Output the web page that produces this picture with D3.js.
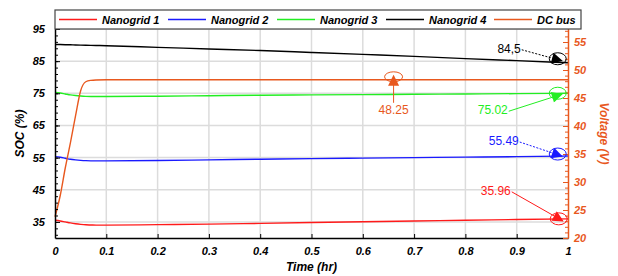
<!DOCTYPE html>
<html><head><meta charset="utf-8">
<script src="https://cdn.jsdelivr.net/npm/d3@7"></script>
<style>
body{margin:0;background:#fff;}
text{font-family:"Liberation Sans",Arial,sans-serif;}
</style></head>
<body><svg id="c" width="618" height="276"></svg>
<script>
const time = [0, 0.01, 0.02, 0.03, 0.04, 0.05, 0.06, 0.07, 0.08, 0.1, 0.2, 0.3, 0.4, 0.5, 0.6, 0.7, 0.8, 0.9, 1];
const nanogrid1 = [35.5, 35.3, 35.0, 34.7, 34.45, 34.25, 34.1, 34.05, 34.0, 34.0, 34.15, 34.3, 34.55, 34.8, 35.05, 35.3, 35.5, 35.75, 35.96];
const nanogrid2 = [55.3, 55.1, 54.8, 54.5, 54.3, 54.15, 54.05, 54.0, 54.0, 54.0, 54.1, 54.3, 54.5, 54.7, 54.85, 55.0, 55.15, 55.3, 55.49];
const nanogrid3 = [75.3, 75.1, 74.8, 74.5, 74.3, 74.15, 74.05, 74.0, 74.0, 74.0, 74.1, 74.25, 74.4, 74.5, 74.6, 74.7, 74.8, 74.9, 75.02];
const nanogrid4 = [90.2, 90.16, 90.12, 90.08, 90.04, 90.0, 89.96, 89.92, 89.88, 89.8, 89.3, 88.8, 88.3, 87.7, 87.1, 86.5, 85.8, 85.15, 84.5];
const dcBus = [23.8, 27.5, 32.5, 37.0, 41.8, 46.3, 47.9, 48.15, 48.22, 48.25, 48.25, 48.25, 48.25, 48.25, 48.25, 48.25, 48.25, 48.25, 48.25];
const seriesNames = ["Nanogrid 1", "Nanogrid 2", "Nanogrid 3", "Nanogrid 4", "DC bus"];
const xTicks = [0, 0.1, 0.2, 0.3, 0.4, 0.5, 0.6, 0.7, 0.8, 0.9, 1];
const socTicks = [35, 45, 55, 65, 75, 85, 95];
const voltTicks = [20, 25, 30, 35, 40, 45, 50, 55];
const annLabels = ["84,5", "75.02", "55.49", "35.96", "48.25"];
const annTimes = [0.98, 0.98, 0.98, 0.98, 0.66];
const annValues = [84.5, 75.02, 55.49, 35.96, 48.25];
const annSeries = [3, 2, 1, 0, 4];

const colors = ["#ff1a1a", "#1a1aff", "#22ee22", "#000000", "#e8581e"];
const orange = "#e8581e";
const svg = d3.select("#c");
const L = 55, R = 568, T = 29, B = 238;
const x = d3.scaleLinear().domain([0, 1]).range([L, R]);
const yL = d3.scaleLinear().domain([30, 95]).range([B, T]);
const yR = d3.scaleLinear().domain([20, 57.5]).range([B, T - 1]);

// grid
const g = svg.append("g");
g.selectAll(".vg").data(xTicks.slice(1, -1)).enter().append("line")
  .attr("x1", d => x(d)).attr("x2", d => x(d)).attr("y1", T).attr("y2", B)
  .attr("stroke", "#dcdcdc").attr("stroke-width", 1.5);
g.selectAll(".hg").data(socTicks).enter().append("line")
  .attr("x1", L).attr("x2", R).attr("y1", d => yL(d)).attr("y2", d => yL(d))
  .attr("stroke", "#dcdcdc").attr("stroke-width", 1.5);

// lines
const data = [nanogrid1, nanogrid2, nanogrid3, nanogrid4];
data.forEach((s, i) => {
  const line = d3.line().x((d, j) => x(time[j])).y(d => yL(d)).curve(d3.curveMonotoneX);
  svg.append("path").datum(s).attr("d", line).attr("fill", "none")
    .attr("stroke", colors[i]).attr("stroke-width", 1.4);
});
const dcLine = d3.line().x((d, j) => x(time[j])).y(d => yR(d)).curve(d3.curveMonotoneX);
svg.append("path").datum(dcBus).attr("d", dcLine).attr("fill", "none")
  .attr("stroke", orange).attr("stroke-width", 1.4);

// axes
const font = 'bold italic 11px "Liberation Sans", Arial, sans-serif';
const ax = svg.append("g").attr("transform", `translate(0,${B})`)
  .call(d3.axisBottom(x).tickValues(xTicks).tickSizeInner(-4).tickSizeOuter(0).tickPadding(9)
    .tickFormat(d => d === 0 ? "0" : d === 1 ? "1" : d3.format(".1f")(d)));
ax.select(".domain").attr("stroke", "#000").attr("stroke-width", 1.5);
ax.selectAll("text").style("font", font).attr("fill", "#000");

const ayMinor = svg.append("g").attr("transform", `translate(${L},0)`)
  .call(d3.axisLeft(yL).tickValues(d3.range(31, 96, 2)).tickSize(-3).tickFormat(""));
ayMinor.select(".domain").remove();
const ay = svg.append("g").attr("transform", `translate(${L},0)`)
  .call(d3.axisLeft(yL).tickValues(socTicks).tickSizeInner(-5).tickSizeOuter(0).tickPadding(10));
ay.select(".domain").attr("stroke", "#000").attr("stroke-width", 1.5);
ay.selectAll("text").style("font", font).attr("fill", "#000");

const arMinor = svg.append("g").attr("transform", `translate(${R},0)`)
  .call(d3.axisRight(yR).tickValues(d3.range(21, 58, 1)).tickSize(-3).tickFormat(""));
arMinor.select(".domain").remove();
arMinor.selectAll("line").attr("stroke", orange);
const ar = svg.append("g").attr("transform", `translate(${R},0)`)
  .call(d3.axisRight(yR).tickValues(voltTicks).tickSizeInner(-5).tickSizeOuter(0).tickPadding(6));
ar.select(".domain").attr("stroke", orange).attr("stroke-width", 1.5);
ar.selectAll("line").attr("stroke", orange);
ar.selectAll("text").style("font", font).attr("fill", orange);

// axis titles
const tfont = 'bold italic 12px "Liberation Sans", Arial, sans-serif';
svg.append("text").attr("x", (L + R) / 2).attr("y", 271).attr("text-anchor", "middle")
  .style("font", tfont).text("Time (hr)");
svg.append("text").attr("transform", `translate(24,${(T + B) / 2}) rotate(-90)`).attr("text-anchor", "middle")
  .style("font", tfont).text("SOC (%)");
svg.append("text").attr("transform", `translate(600,${(T + B) / 2}) rotate(90)`).attr("text-anchor", "middle")
  .style("font", tfont).attr("fill", orange).text("Voltage (V)");

// annotations
const defs = svg.append("defs");
colors.forEach((c, i) => {
  defs.append("marker").attr("id", "ar" + i).attr("viewBox", "0 0 10 10").attr("refX", 9).attr("refY", 5)
    .attr("markerWidth", 12).attr("markerHeight", 11).attr("markerUnits", "userSpaceOnUse").attr("orient", "auto")
    .append("path").attr("d", "M0,0 L10,5 L0,10 z").attr("fill", c);
});
const annOff = [
  {tx: -37, ty: -9, ex: 0, ey: -4, dash: "2,1.5"},
  {tx: -50, ty: 18, ex: 0, ey: 0, dash: null},
  {tx: -39, ty: -12, ex: 0, ey: -2, dash: "2,1.5"},
  {tx: -48, ty: -27, ex: 1, ey: 0, dash: null},
  {tx: 0, ty: 34, ex: 0, ey: -3, dash: null}
];
annLabels.forEach((label, i) => {
  const o = annOff[i];
  const si = annSeries[i];
  const c = colors[si];
  const cx = x(annTimes[i]) + o.ex;
  const cy = (si === 4 ? yR(annValues[i]) : yL(annValues[i])) + o.ey;
  svg.append("ellipse").attr("cx", cx).attr("cy", cy).attr("rx", i === 4 ? 9 : 8.5).attr("ry", i === 4 ? 5 : 6)
    .attr("fill", "none").attr("stroke", c).attr("stroke-width", 1);
  const tx = cx + o.tx, ty = cy + o.ty;
  svg.append("text").attr("x", tx).attr("y", ty).attr("fill", c)
    .style("font", '12px "Liberation Sans", Arial, sans-serif')
    .attr("text-anchor", i === 4 ? "middle" : "end").attr("dominant-baseline", "middle").text(label);
  let x1, y1, x2, y2;
  if (i === 4) { x1 = cx; y1 = ty - 8; x2 = cx; y2 = cy - 1; }
  else { x1 = tx + 1; y1 = ty; x2 = cx + 4; y2 = cy + (i === 1 ? 1 : 2); }
  const ln = svg.append("line").attr("x1", x1).attr("y1", y1).attr("x2", x2).attr("y2", y2)
    .attr("stroke", c).attr("stroke-width", 1).attr("marker-end", `url(#ar${si})`);
  if (o.dash) ln.attr("stroke-dasharray", o.dash);
});

// legend
const lg = svg.append("g");
lg.append("rect").attr("x", 55).attr("y", 10).attr("width", 526).attr("height", 19)
  .attr("fill", "#fff").attr("stroke", "#444").attr("stroke-width", 1.2);
const lx = [59, 168, 277, 386, 494];
seriesNames.forEach((n, i) => {
  lg.append("line").attr("x1", lx[i]).attr("x2", lx[i] + 38).attr("y1", 19.5).attr("y2", 19.5)
    .attr("stroke", colors[i]).attr("stroke-width", 1.4);
  lg.append("text").attr("x", lx[i] + 43).attr("y", 23.5).style("font", font).attr("fill", "#000").text(n);
});
</script></body></html>
